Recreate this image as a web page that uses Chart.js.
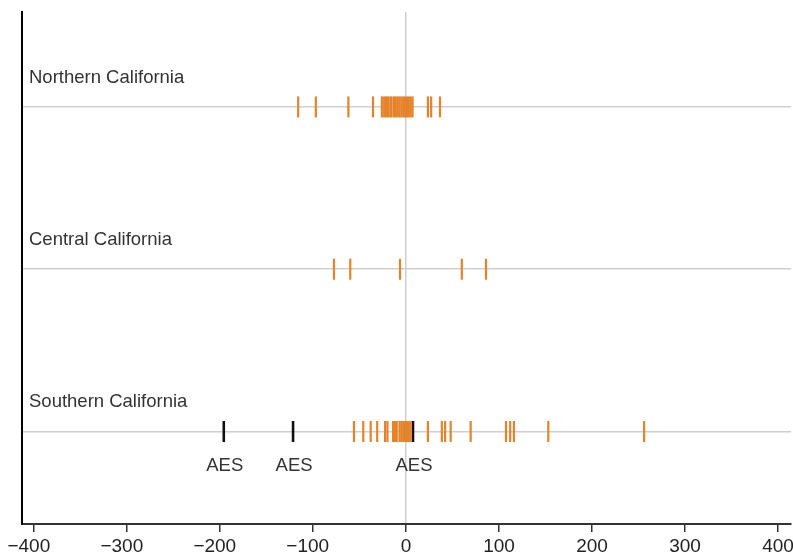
<!DOCTYPE html>
<html>
<head>
<meta charset="utf-8">
<script src="https://cdn.jsdelivr.net/npm/chart.js@4.4.1/dist/chart.umd.min.js"></script>
<style>
  html, body { margin: 0; padding: 0; background: #fff; }
  #wrap { width: 793px; height: 554px; position: relative; }
</style>
</head>
<body>
<div id="wrap"><canvas id="chart"></canvas></div>
<script>
// Region rows (y position) and names
const regions = ['Southern California', 'Central California', 'Northern California'];
const regionRows = [1, 2, 3];

// x values of the rug marks
const northValues = [-116, -97, -62, -35.5, -26, -23.5, -21.5, -19.5, -17, -15.5,
  -13, -11, -9, -7, -5, -3, -1, 1, 3, 5, 7, 23.5, 27, 36.5];
const centralValues = [-77.5, -60, -6.5, 60, 86];
const southValues = [-56, -46, -38, -31, -22.5, -20, -14, -12, -10, -7, -5, -3, -1, 1, 3, 5,
  23.5, 38.5, 42, 48, 69.5, 107.5, 112, 116, 153, 256];
const aesValues = [-196, -121.5, 7.5];
const aesLabel = 'AES';

const xTicks = [-400, -300, -200, -100, 0, 100, 200, 300, 400];

const orange = '#e5832b';
const fontFamily = '"Liberation Sans", Arial, Helvetica, sans-serif';

// the rug marks are tall point markers; don't let them pad the chart area
Chart.ScatterController.prototype.getMaxOverflow = () => 0;

function toPoints(values, row) {
  return values.map(v => ({ x: v, y: row }));
}

function rugSet(values, row, color, width) {
  return {
    data: toPoints(values, row),
    pointStyle: 'line',
    rotation: 90,
    pointRadius: 10.5,
    borderColor: color,
    backgroundColor: color,
    pointBorderWidth: width,
    showLine: false
  };
}

// Region names and AES labels
const labelPlugin = {
  id: 'rugLabels',
  afterDatasetsDraw(chart) {
    const { ctx, chartArea, scales } = chart;
    ctx.save();
    ctx.fillStyle = '#333';
    ctx.font = '18.5px ' + fontFamily;
    ctx.textBaseline = 'alphabetic';
    ctx.textAlign = 'left';
    regions.forEach((name, i) => {
      const y = scales.y.getPixelForValue(regionRows[i]);
      ctx.fillText(name, chartArea.left + 7, y - 24);
    });
    ctx.textAlign = 'center';
    const yS = scales.y.getPixelForValue(regionRows[0]);
    aesValues.forEach(v => {
      ctx.fillText(aesLabel, scales.x.getPixelForValue(v) + 1, yS + 40);
    });
    ctx.restore();
  }
};

new Chart(document.getElementById('chart'), {
  type: 'scatter',
  data: {
    datasets: [
      rugSet(northValues, regionRows[2], orange, 2.2),
      rugSet(centralValues, regionRows[1], orange, 2.2),
      rugSet(southValues, regionRows[0], orange, 2.2),
      rugSet(aesValues, regionRows[0], '#111', 2.6)
    ]
  },
  options: {
    responsive: true,
    maintainAspectRatio: false,
    animation: false,
    events: [],
    layout: { padding: { left: 22, top: 12, right: 2, bottom: -6.8 } },
    plugins: {
      legend: { display: false },
      tooltip: { enabled: false }
    },
    scales: {
      x: {
        type: 'linear',
        min: -413,
        max: 414,
        afterBuildTicks: axis => { axis.ticks = xTicks.map(v => ({ value: v })); },
        afterFit: axis => { axis.paddingLeft = 0; axis.paddingRight = 0; },
        grid: {
          color: c => (c.tick && c.tick.value === 0) ? '#cfcfcf' : 'rgba(0,0,0,0)',
          lineWidth: 1.5,
          tickColor: '#333',
          tickWidth: 1.5,
          tickLength: 8
        },
        border: { color: '#333', width: 2 },
        ticks: {
          color: '#222',
          padding: 3,
          maxRotation: 0,
          font: { family: fontFamily, size: 19 },
          // minus sign hangs to the left of the centred digits
          callback: v => v < 0 ? '\u2212' + Math.abs(v) + '  ' : String(v)
        }
      },
      y: {
        type: 'linear',
        min: 0.43,
        max: 3.585,
        afterBuildTicks: axis => { axis.ticks = regionRows.map(v => ({ value: v })); },
        grid: {
          color: '#cfcfcf',
          lineWidth: 1.5,
          drawTicks: false
        },
        border: { color: '#000', width: 2 },
        ticks: { display: false }
      }
    }
  },
  plugins: [labelPlugin]
});
</script>
</body>
</html>
